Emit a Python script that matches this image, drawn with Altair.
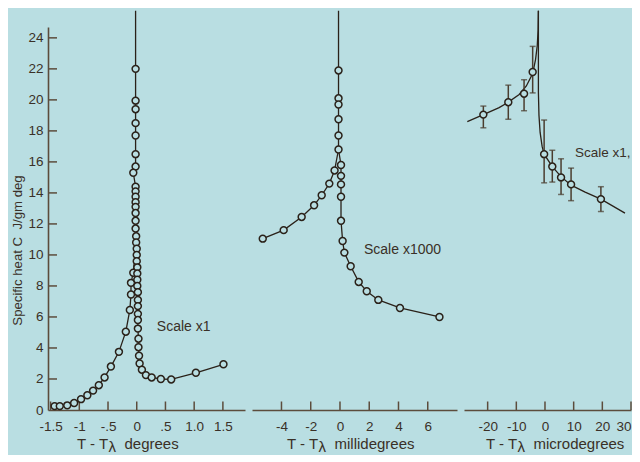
import altair as alt
import pandas as pd

BG = "#b9dee2"
INK = "#2a2119"
AXC = "#5c4c3c"
TXT = "#3a3027"
BAR = "#4a3d2f"
FONT = "Liberation Sans"

# ---------------- shared vertical scale ----------------
Y_DOMAIN = [0, 24.7]
Y_TICKS = [0, 2, 4, 6, 8, 10, 12, 14, 16, 18, 20, 22, 24]
Y_TITLE = "Specific heat C\u00a0\u00a0J/gm deg"
PEAK_TOP = 25.75

# ---------------- panel 1 : degrees ----------------
P1_DOMAIN = [-1.545, 1.885]
P1_TICKS = [-1.5, -1.0, -0.5, 0.0, 0.5, 1.0, 1.5]
P1_LABELS = ["-1.5", "-1", "-.5", "0", ".5", "1.0", "1.5"]
P1_PEAK_X = -0.02
P1_BELOW_X = [-1.43, -1.34, -1.21, -1.09, -0.97, -0.86, -0.76, -0.66, -0.56, -0.45,
              -0.31, -0.19, -0.12, -0.10, -0.10, -0.06]
P1_BELOW_Y = [0.25, 0.25, 0.3, 0.45, 0.7, 0.95, 1.25, 1.6, 2.1, 2.8,
              3.75, 5.05, 6.45, 7.45, 8.2, 8.85]
P1_ABOVE_X = [-0.02, -0.02, -0.02, -0.02, -0.02, -0.02, -0.02, -0.06, -0.02, -0.02,
              -0.02, -0.02, -0.02, -0.02, -0.02, -0.02,
              -0.01, -0.01, 0.0, 0.0, 0.0, 0.01, 0.01, 0.01, 0.01, 0.02,
              0.02, 0.02, 0.02, 0.02, 0.02, 0.03, 0.03, 0.04, 0.05,
              0.09, 0.16, 0.26, 0.42, 0.60, 1.03, 1.51]
P1_ABOVE_Y = [22.0, 19.95, 19.4, 18.5, 17.7, 16.5, 15.7, 15.3, 14.4, 14.1,
              13.75, 13.4, 13.1, 12.7, 12.2, 11.7,
              11.2, 10.8, 10.4, 10.0, 9.6, 9.2, 8.8, 8.4, 8.0, 7.6,
              7.1, 6.7, 6.2, 5.8, 5.25, 4.6, 4.05, 3.5, 3.0,
              2.6, 2.25, 2.1, 2.0, 1.97, 2.4, 2.95]
P1_JOIN_Y = 10.5
P1_NOTE = "Scale x1"
P1_NOTE_AT = (0.35, 5.35)
P1_UNIT = "degrees"

# ---------------- panel 2 : millidegrees ----------------
P2_DOMAIN = [-6.015, 8.0]
P2_TICKS = [-4, -2, 0, 2, 4, 6]
P2_LABELS = ["-4", "-2", "0", "2", "4", "6"]
P2_PEAK_X = -0.1
P2_BELOW_X = [-5.28, -3.85, -2.62, -1.77, -1.25, -0.73, -0.37]
P2_BELOW_Y = [11.05, 11.6, 12.45, 13.2, 13.85, 14.6, 15.45]
P2_ABOVE_X = [-0.1, -0.1, -0.1, -0.1, -0.1, -0.1,
              0.07, 0.07, 0.07, 0.07, 0.07,
              0.18, 0.30, 0.73, 1.28, 1.83, 2.62, 4.1, 6.8]
P2_ABOVE_Y = [21.9, 20.1, 19.7, 18.75, 17.7, 16.8,
              15.8, 15.1, 14.55, 13.75, 12.2,
              10.9, 10.15, 9.27, 8.26, 7.66, 7.1, 6.58, 6.0]
P2_JOIN_Y = 16.8
P2_NOTE = "Scale x1000"
P2_NOTE_AT = (1.64, 10.35)
P2_UNIT = "millidegrees"

# ---------------- panel 3 : microdegrees ----------------
P3_DOMAIN = [-28.25, 30.0]
P3_TICKS = [-20, -10, 0, 10, 20, 30]
P3_LABELS = ["-20", "-10", "0", "10", "20", "30"]
P3_PT_X = [-21.5, -12.8, -7.3, -4.3, -0.3, 2.55, 5.6, 9.1, 19.5]
P3_PT_Y = [19.05, 19.85, 20.4, 21.8, 16.5, 15.7, 15.0, 14.55, 13.6]
P3_LO = [18.2, 18.75, 19.3, 20.45, 14.65, 14.7, 13.9, 13.5, 12.8]
P3_HI = [19.6, 20.95, 21.3, 23.45, 18.7, 16.75, 16.2, 15.6, 14.4]
P3_BELOW_CURVE_X = [-27.1, -21.5, -16.0, -12.8, -9.0, -6.5, -4.3, -3.3, -2.7, -2.4, -2.3]
P3_BELOW_CURVE_Y = [18.6, 19.05, 19.5, 19.85, 20.35, 20.9, 21.7, 22.6, 23.5, 24.5, 25.75]
P3_ABOVE_CURVE_X = [-2.3, -2.3, -2.1, -1.7, -1.0, -0.3, 2.55, 5.6, 9.1, 14.0, 19.5, 27.9]
P3_ABOVE_CURVE_Y = [25.75, 20.5, 19.0, 17.9, 17.0, 16.5, 15.7, 15.05, 14.5, 14.05, 13.6, 12.7]
P3_NOTE = "Scale x1,000,000"
P3_NOTE_AT = (10.5, 16.6)
P3_UNIT = "microdegrees"

# ---------------- layout / style ----------------
H = 383
W1, W2, W3 = 197, 205, 167
YTICK_PX = 9
XTICK_PX = 8.5
TITLE_Y = 422
SUB_DY = 3


def y_enc(show_axis, field="y"):
    axis = None
    if show_axis:
        axis = alt.Axis(values=Y_TICKS, title=Y_TITLE, ticks=False, tickSize=0, grid=False,
                        domainColor=AXC, domainWidth=1.6, labelColor=TXT, labelFont=FONT,
                        labelFontSize=13.5, labelPadding=5, labelFlush=False,
                        titleFont=FONT, titleFontSize=13.2, titleFontWeight="normal",
                        titleColor=TXT, titleX=-31, titleY=223, titleAngle=270,
                        titleAlign="center", titleBaseline="middle")
    return alt.Y(f"{field}:Q", scale=alt.Scale(domain=Y_DOMAIN, nice=False, zero=False),
                 axis=axis)


def x_enc(domain, ticks, labels, flush=False):
    expr = " : ".join(f"datum.value == {v} ? '{l}'" for v, l in zip(ticks, labels)) + " : ''"
    axis = alt.Axis(values=ticks, labelExpr=expr, title=None, ticks=False, tickSize=0,
                    grid=False, domainColor=AXC, domainWidth=1.6, labelColor=TXT,
                    labelFont=FONT, labelFontSize=13.5, labelPadding=9, labelFlush=flush,
                    labelOverlap=False)
    return alt.X("x:Q", scale=alt.Scale(domain=domain, nice=False, zero=False), axis=axis)


def series(xs, ys):
    return pd.DataFrame({"x": xs, "y": ys, "i": list(range(len(xs)))})


def line_layer(df, X, Y):
    return alt.Chart(df).mark_line(color=INK, strokeWidth=1.3).encode(
        x=X, y=Y, order=alt.Order("i:Q"))


def point_layer(df, X, Y):
    return alt.Chart(df).mark_point(shape="circle", size=48, filled=True, fill=BG,
                                    stroke=INK, strokeWidth=1.5, opacity=1).encode(x=X, y=Y)


def inward_ticks(domain, ticks, width, X, Y, with_y):
    layers = []
    xt = [t for t in ticks if t > domain[0] + 1e-9]
    per_y = H / (Y_DOMAIN[1] - Y_DOMAIN[0])
    dfx = pd.DataFrame({"x": xt, "y": [0.0] * len(xt), "y2": [XTICK_PX / per_y] * len(xt)})
    layers.append(alt.Chart(dfx).mark_rule(color=AXC, strokeWidth=1.5).encode(
        x=X, y=Y, y2="y2:Q"))
    if with_y:
        per_x = width / (domain[1] - domain[0])
        yt = [t for t in Y_TICKS if t > 0]
        dfy = pd.DataFrame({"x": [domain[0]] * len(yt),
                            "x2": [domain[0] + YTICK_PX / per_x] * len(yt), "y": yt})
        layers.append(alt.Chart(dfy).mark_rule(color=AXC, strokeWidth=1.5).encode(
            x=X, x2="x2:Q", y=Y))
    return layers


def note_layer(text, at, X, Y, size=14, limit=None):
    kw = {}
    if limit is not None:
        kw = {"limit": limit, "ellipsis": "\u200b"}
    df = pd.DataFrame({"x": [at[0]], "y": [at[1]], "t": [text]})
    return alt.Chart(df).mark_text(align="left", baseline="middle", font=FONT, fontSize=size,
                                   color=TXT, **kw).encode(x=X, y=Y, text="t:N")


def unit_title(unit, x0):
    parts = [("T - T", x0, TITLE_Y), ("\u03bb", x0 + 31.5, TITLE_Y + SUB_DY),
             (unit, x0 + 47.5, TITLE_Y)]
    out = []
    for s, px, py in parts:
        out.append(alt.Chart(pd.DataFrame({"t": [s]})).mark_text(
            align="left", baseline="alphabetic", font=FONT, fontSize=15, color=TXT).encode(
            x=alt.value(px), y=alt.value(py), text="t:N"))
    return out


# ---------------- panel 1 ----------------
X1 = x_enc(P1_DOMAIN, P1_TICKS, P1_LABELS)
Y1 = y_enc(True)
p1 = alt.layer(
    line_layer(series(P1_BELOW_X + [P1_PEAK_X], P1_BELOW_Y + [P1_JOIN_Y]), X1, Y1),
    line_layer(series([P1_PEAK_X] + P1_ABOVE_X, [PEAK_TOP] + P1_ABOVE_Y), X1, Y1),
    *inward_ticks(P1_DOMAIN, P1_TICKS, W1, X1, Y1, True),
    point_layer(series(P1_BELOW_X, P1_BELOW_Y), X1, Y1),
    point_layer(series(P1_ABOVE_X, P1_ABOVE_Y), X1, Y1),
    note_layer(P1_NOTE, P1_NOTE_AT, X1, Y1),
    *unit_title(P1_UNIT, 29),
).properties(width=W1, height=H)

# ---------------- panel 2 ----------------
X2 = x_enc(P2_DOMAIN, P2_TICKS, P2_LABELS)
Y2 = y_enc(False)
p2 = alt.layer(
    line_layer(series(P2_BELOW_X + [P2_PEAK_X], P2_BELOW_Y + [P2_JOIN_Y]), X2, Y2),
    line_layer(series([P2_PEAK_X] + P2_ABOVE_X, [PEAK_TOP] + P2_ABOVE_Y), X2, Y2),
    *inward_ticks(P2_DOMAIN, P2_TICKS, W2, X2, Y2, False),
    point_layer(series(P2_BELOW_X, P2_BELOW_Y), X2, Y2),
    point_layer(series(P2_ABOVE_X, P2_ABOVE_Y), X2, Y2),
    note_layer(P2_NOTE, P2_NOTE_AT, X2, Y2),
    *unit_title(P2_UNIT, 35),
).properties(width=W2, height=H)

# ---------------- panel 3 ----------------
X3 = x_enc(P3_DOMAIN, P3_TICKS, P3_LABELS, flush=True)
Y3 = y_enc(False)
err = pd.DataFrame({"x": P3_PT_X, "y": P3_LO, "y2": P3_HI})
caps = pd.DataFrame({"x": P3_PT_X + P3_PT_X, "y": P3_LO + P3_HI})
p3 = alt.layer(
    line_layer(series(P3_BELOW_CURVE_X, P3_BELOW_CURVE_Y), X3, Y3),
    line_layer(series(P3_ABOVE_CURVE_X, P3_ABOVE_CURVE_Y), X3, Y3),
    *inward_ticks(P3_DOMAIN, P3_TICKS, W3, X3, Y3, False),
    alt.Chart(err).mark_rule(color=BAR, strokeWidth=1.5).encode(x=X3, y=Y3, y2="y2:Q"),
    alt.Chart(caps).mark_tick(orient="horizontal", size=6, thickness=1.5, color=BAR).encode(
        x=X3, y=Y3),
    point_layer(series(P3_PT_X, P3_PT_Y), X3, Y3),
    note_layer(P3_NOTE, P3_NOTE_AT, X3, Y3, size=13.5, limit=56),
    *unit_title(P3_UNIT, 22),
).properties(width=W3, height=H)

chart = alt.hconcat(p1, p2, p3, spacing=7, bounds="flush").properties(
    padding={"left": 2, "top": 0, "right": 0, "bottom": 0}
).configure(background=BG).configure_view(stroke=None)

chart.save("out.html", embed_options={"renderer": "svg", "actions": False})
